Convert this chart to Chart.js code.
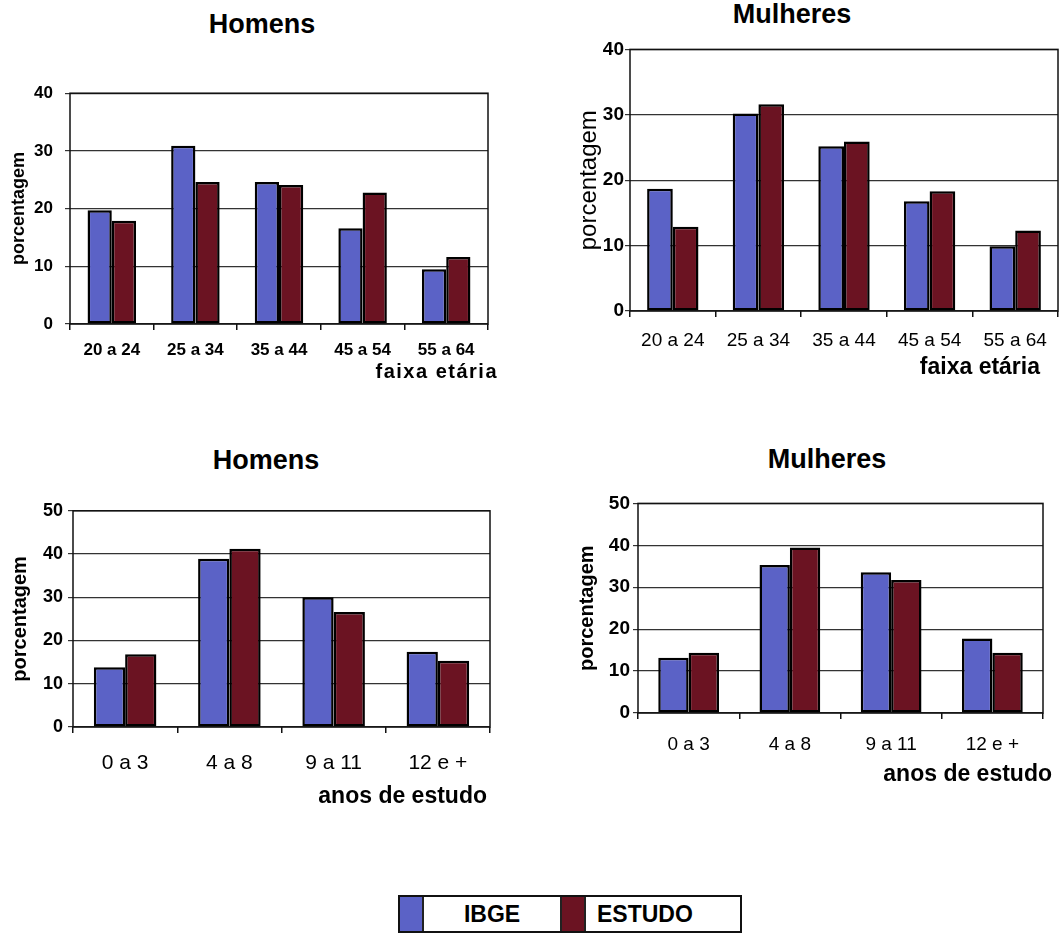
<!DOCTYPE html>
<html>
<head>
<meta charset="utf-8">
<script src="https://cdn.jsdelivr.net/npm/chart.js@4.4.1/dist/chart.umd.min.js"></script>
<style>
  body { margin: 0; background: #fff; font-family: "Liberation Sans", Arial, sans-serif; }
  #page { position: relative; width: 1059px; height: 936px; overflow: hidden; }
  canvas { position: absolute; }
  .ttl { position: absolute; font-weight: bold; font-size: 27px; color: #000; transform: translate(-50%, -50%); white-space: nowrap; }
  #legend { position: absolute; left: 398px; top: 895px; width: 340px; height: 34px; border: 2px solid #111; display: flex; }
  #legend .sw { width: 22px; height: 100%; border-right: 2px solid #222; }
  #legend .lb { font-weight: bold; font-size: 23px; line-height: 34px; color: #000; }
</style>
</head>
<body>
<div id="page">
  <div class="ttl" style="left:262px; top:24px;">Homens</div>
  <div class="ttl" style="left:792px; top:14px;">Mulheres</div>
  <div class="ttl" style="left:266px; top:460px;">Homens</div>
  <div class="ttl" style="left:827px; top:459px;">Mulheres</div>

  <canvas id="c1" width="500" height="323" style="left:0px; top:71px;"></canvas>
  <canvas id="c2" width="499" height="349" style="left:560px; top:37px;"></canvas>
  <canvas id="c3" width="500" height="317" style="left:0px; top:495px;"></canvas>
  <canvas id="c4" width="499" height="304" style="left:560px; top:489px;"></canvas>

  <div id="legend">
    <div class="sw" style="background:#5b62c6;"></div>
    <div class="lb" style="width:136px; text-align:center;">IBGE</div>
    <div class="sw" style="background:#6b1322; border-left:2px solid #222;"></div>
    <div class="lb" style="padding-left:11px;">ESTUDO</div>
  </div>
</div>

<script>
// data
const seriesNames = ['IBGE', 'ESTUDO'];
const ageLabels = ['20 a 24', '25 a 34', '35 a 44', '45 a 54', '55 a 64'];
const eduLabels = ['0 a 3', '4 a 8', '9 a 11', '12 e +'];

const homensIdadeIbge = [19.7, 30.9, 24.6, 16.6, 9.5];
const homensIdadeEstudo = [17.9, 24.6, 24.1, 22.8, 11.6];
const mulheresIdadeIbge = [18.7, 30.2, 25.2, 16.8, 9.9];
const mulheresIdadeEstudo = [12.9, 31.6, 25.9, 18.3, 12.3];

const homensEstudoIbge = [13.8, 38.9, 30.0, 17.4];
const homensEstudoEstudo = [16.8, 41.2, 26.6, 15.3];
const mulheresEstudoIbge = [13.2, 35.3, 33.6, 17.8];
const mulheresEstudoEstudo = [14.4, 39.5, 31.7, 14.4];

const ageAxisMax = 40;
const eduAxisMax = 50;
const tickStep = 10;

const FONT = '"Liberation Sans", Arial, sans-serif';
const IBGE_COLOR = '#5b62c6';
const ESTUDO_COLOR = '#6b1322';

// box around the plot + right-aligned x axis title under the tick labels
const frameAndTitle = {
    id: 'frameAndTitle',
    afterDraw(chart, args, opts) {
        const { ctx, chartArea: a } = chart;
        ctx.save();
        ctx.strokeStyle = '#111';
        ctx.lineWidth = 1.5;
        ctx.strokeRect(a.left, a.top, a.right - a.left, a.bottom - a.top);
        ctx.fillStyle = '#000';
        ctx.font = opts.font;
        if (opts.spacing) ctx.letterSpacing = opts.spacing;
        ctx.textAlign = 'right';
        ctx.textBaseline = 'middle';
        ctx.fillText(opts.text, a.right + opts.dx, a.bottom + opts.dy);
        ctx.restore();
    }
};

function makeChart(id, labels, ibge, estudo, yMax, s) {
    return new Chart(document.getElementById(id), {
        type: 'bar',
        data: {
            labels: labels,
            datasets: [
                { label: seriesNames[0], data: ibge, backgroundColor: IBGE_COLOR },
                { label: seriesNames[1], data: estudo, backgroundColor: ESTUDO_COLOR }
            ]
        },
        options: {
            responsive: false,
            animation: false,
            devicePixelRatio: 1,
            layout: { padding: s.padding },
            datasets: {
                bar: {
                    borderColor: '#000',
                    borderWidth: 2.5,
                    borderSkipped: false,
                    categoryPercentage: s.catPct,
                    barPercentage: 1.0
                }
            },
            plugins: {
                legend: { display: false },
                tooltip: { enabled: false },
                frameAndTitle: s.xTitle
            },
            scales: {
                x: {
                    afterFit: (scale) => { scale.height = s.xHeight; },
                    grid: { display: true, drawOnChartArea: false, offset: true, tickLength: 6, color: '#111', lineWidth: 1.5 },
                    border: { display: false },
                    ticks: { color: '#000', padding: s.xTickPad, maxRotation: 0, font: s.xTickFont }
                },
                y: {
                    min: 0,
                    max: yMax,
                    afterFit: (scale) => { scale.width = s.yWidth; },
                    grid: { color: '#333', lineWidth: 1.2, tickLength: 5 },
                    border: { display: false },
                    ticks: { stepSize: tickStep, color: '#000', padding: s.yTickPad, font: s.yTickFont },
                    title: { display: true, text: 'porcentagem', color: '#000', font: s.yTitleFont, padding: { top: s.yTitlePad, bottom: 0 } }
                }
            }
        },
        plugins: [frameAndTitle]
    });
}

makeChart('c1', ageLabels, homensIdadeIbge, homensIdadeEstudo, ageAxisMax, {
    padding: { top: 10, right: 12, left: 0, bottom: 0 },
    catPct: 0.58, xHeight: 70, yWidth: 70,
    xTickPad: 10, xTickFont: { family: FONT, size: 17, weight: 'bold' },
    yTickPad: 12, yTickFont: { family: FONT, size: 17, weight: 'bold' },
    yTitleFont: { family: FONT, size: 18, weight: 'bold' }, yTitlePad: 8,
    xTitle: { text: 'faixa etária', font: 'bold 20px ' + FONT, spacing: '1.5px', dx: 10, dy: 48 }
});

makeChart('c2', ageLabels, mulheresIdadeIbge, mulheresIdadeEstudo, ageAxisMax, {
    padding: { top: 10, right: 1, left: 0, bottom: 0 },
    catPct: 0.6, xHeight: 75, yWidth: 70,
    xTickPad: 12, xTickFont: { family: FONT, size: 19 },
    yTickPad: 1, yTickFont: { family: FONT, size: 19, weight: 'bold' },
    yTitleFont: { family: FONT, size: 24 }, yTitlePad: 15,
    xTitle: { text: 'faixa etária', font: 'bold 23px ' + FONT, dx: -18, dy: 57 }
});

makeChart('c3', eduLabels, homensEstudoIbge, homensEstudoEstudo, eduAxisMax, {
    padding: { top: 10, right: 10, left: 0, bottom: 0 },
    catPct: 0.6, xHeight: 85, yWidth: 73,
    xTickPad: 18, xTickFont: { family: FONT, size: 21 },
    yTickPad: 5, yTickFont: { family: FONT, size: 18, weight: 'bold' },
    yTitleFont: { family: FONT, size: 20, weight: 'bold' }, yTitlePad: 8,
    xTitle: { text: 'anos de estudo', font: 'bold 23px ' + FONT, dx: -3, dy: 70 }
});

makeChart('c4', eduLabels, mulheresEstudoIbge, mulheresEstudoEstudo, eduAxisMax, {
    padding: { top: 10, right: 16, left: 0, bottom: 0 },
    catPct: 0.6, xHeight: 80, yWidth: 78,
    xTickPad: 14, xTickFont: { family: FONT, size: 19 },
    yTickPad: 3, yTickFont: { family: FONT, size: 19, weight: 'bold' },
    yTitleFont: { family: FONT, size: 20, weight: 'bold' }, yTitlePad: 15,
    xTitle: { text: 'anos de estudo', font: 'bold 23px ' + FONT, dx: 9, dy: 62 }
});
</script>
</body>
</html>
